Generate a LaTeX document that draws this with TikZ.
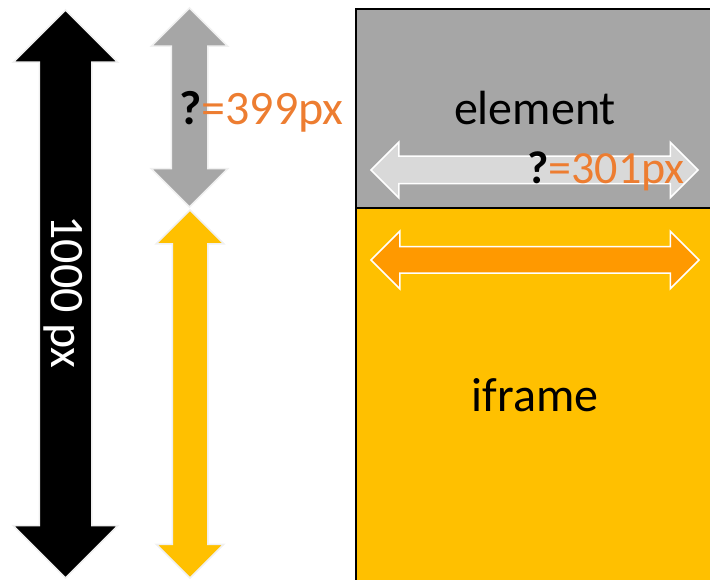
\documentclass[tikz,border=0pt]{standalone}
\usepackage{fontspec}
\setmainfont{Carlito}
\usetikzlibrary{shapes.arrows, positioning}

\definecolor{boxgray}{HTML}{A6A6A6}
\definecolor{boxyellow}{HTML}{FFC000}
\definecolor{txtorange}{HTML}{ED7D31}
\definecolor{arrorange}{HTML}{FF9900}
\definecolor{arrlight}{HTML}{D9D9D9}

\begin{document}
\begin{tikzpicture}[x=1pt, y=-1pt,
    every node/.style={font=\fontsize{48}{58}\selectfont},
    blockarrow/.style={double arrow, draw=white!94!black, line width=1.5pt, inner xsep=0pt, minimum width=0pt},
    panel/.style={rectangle, draw=black, line width=2pt, minimum width=358pt}]
    \useasboundingbox (0,0) rectangle (710,580);
    \clip (0,0) rectangle (710,580);

    % page with element and iframe
    \node [panel, fill=boxgray, minimum height=199pt] (element) at (535,108.5) {element};
    \node [panel, fill=boxyellow, minimum height=374pt] (iframe) at (535,395) {iframe};

    % heights
    \node [blockarrow, fill=black, rotate=90, minimum height=568pt, inner ysep=25.5pt, double arrow head extend=26pt] (total) at (65.5,294) {};
    \node [rotate=-90, text=white] (totallabel) at (63.5,292) {1000 px};
    \node [blockarrow, fill=boxgray, rotate=90, minimum height=199pt, inner ysep=17.5pt, double arrow head extend=20pt] (elemheight) at (189.5,107.5) {};
    \node [blockarrow, fill=boxyellow, rotate=90, minimum height=368pt, inner ysep=17pt, double arrow head extend=16pt] (frameheight) at (190,394) {};

    % widths
    \node [blockarrow, fill=arrlight, draw=white, minimum height=327pt, inner ysep=13pt, double arrow head extend=14pt] (elemwidth) at (534.5,170) {};
    \node [blockarrow, fill=arrorange, draw=white, minimum height=328pt, inner ysep=12.5pt, double arrow head extend=15.5pt] (framewidth) at (535,260) {};

    \node [anchor=base west, inner sep=0pt] (heightlabel) at (179,125) {\textbf{?}\textcolor{txtorange}{=399px}};
    \node [anchor=base west, inner sep=0pt, font=\fontsize{46}{55}\selectfont] (widthlabel) at (527,184) {\textbf{?}\textcolor{txtorange}{=301px}};
\end{tikzpicture}
\end{document}
